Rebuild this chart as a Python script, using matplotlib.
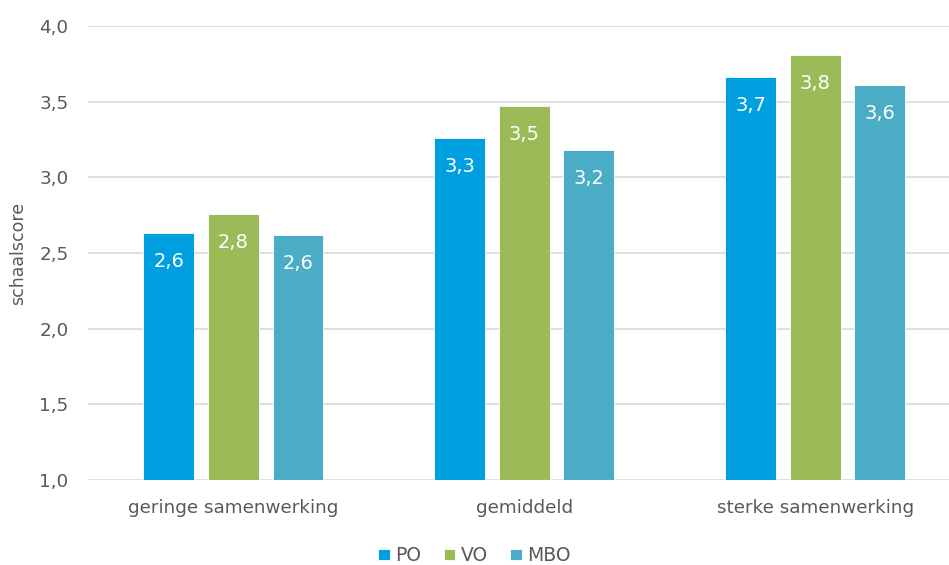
import numpy as np
import matplotlib.pyplot as plt

# -------------------------
# Data
# -------------------------
categories = ["geringe samenwerking", "gemiddeld", "sterke samenwerking"]
series_names = ["PO", "VO", "MBO"]
po = [2.63, 3.26, 3.66]
vo = [2.76, 3.47, 3.81]
mbo = [2.62, 3.18, 3.61]
colors = ["#009FDF", "#9BBB59", "#4BACC6"]
yticks = [1.0, 1.5, 2.0, 2.5, 3.0, 3.5, 4.0]

text_color = "#595959"
plt.rcParams["font.family"] = ["DejaVu Sans"]

fig = plt.figure(figsize=(9.49, 5.65), dpi=100)
ax = fig.add_axes([88 / 949, (565 - 480) / 565, 1 - 88 / 949, (480 - 26) / 565])

x = np.arange(len(categories))
width = 0.175
step = 0.222
for i, (name, vals) in enumerate(zip(series_names, [po, vo, mbo])):
    pos = x + (i - 1) * step
    ax.bar(pos, np.array(vals) - 1.0, width, bottom=1.0, color=colors[i],
           edgecolor="white", linewidth=0.6, label=name, zorder=3)
    for p, v in zip(pos, vals):
        ax.annotate(f"{v:.1f}".replace(".", ","), xy=(p, v), xytext=(0, -20.5),
                    textcoords="offset points", ha="center", va="center",
                    color="white", fontsize=14, zorder=4)

ax.set_ylim(1.0, 4.0)
ax.set_xlim(-0.5, 2.46)
ax.set_yticks(yticks)
ax.set_yticklabels([f"{t:.1f}".replace(".", ",") for t in yticks])
ax.set_xticks(x)
ax.set_xticklabels(categories)
ax.grid(axis="y", color="#D9D9D9", linewidth=1.2, zorder=0)
ax.set_axisbelow(True)
for s in ax.spines.values():
    s.set_visible(False)
ax.tick_params(axis="both", length=0, colors=text_color, labelsize=13.2)
ax.tick_params(axis="x", pad=14)
ax.tick_params(axis="y", pad=14)
ax.set_ylabel("schaalscore", color=text_color, fontsize=12.5, labelpad=9)

leg = fig.legend(loc="lower center", bbox_to_anchor=(0.5, -0.03), ncol=3, frameon=False,
                 fontsize=13.5, handlelength=0.6, handleheight=0.6, handletextpad=0.3,
                 columnspacing=1.2)
for t in leg.get_texts():
    t.set_color(text_color)

fig.savefig("out.png", dpi=100)
